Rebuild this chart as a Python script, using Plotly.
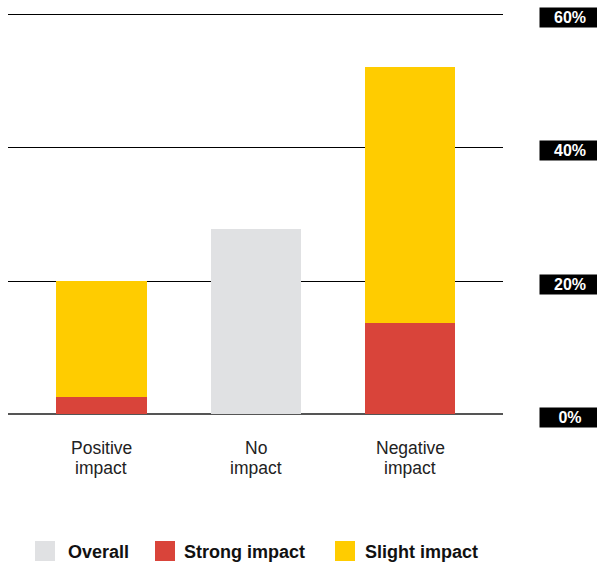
import plotly.graph_objects as go

categories = ["Positive impact", "No impact", "Negative impact"]
tick_labels = ["Positive<br>impact", "No<br>impact", "Negative<br>impact"]
series_names = ["Overall", "Strong impact", "Slight impact"]
overall = [None, 27.8, None]
strong = [2.6, None, 13.7]
slight = [17.4, None, 38.5]
y_ticks = [0, 20, 40, 60]
y_tick_labels = ["0%", "20%", "40%", "60%"]
colors = ["#e0e1e3", "#d9443a", "#ffcc00"]

W, H = 597, 565
L, R, T, B = 8, 94, 10, 150
pw, ph = W - L - R, H - T - B
y_lo, y_hi = -0.15, 60.75
FONT = "Liberation Sans, Arial, sans-serif"

fig = go.Figure()
for name, vals, c in zip(series_names, [overall, strong, slight], colors):
    fig.add_trace(go.Bar(x=categories, y=vals, name=name, marker=dict(color=c, line=dict(width=0)),
                         width=0.583, showlegend=False))

fig.update_layout(
    width=W, height=H, margin=dict(l=L, r=R, t=T, b=B, autoexpand=False),
    barmode="stack", plot_bgcolor="white", paper_bgcolor="white",
    font=dict(family=FONT, color="#1a1a1a"),
    xaxis=dict(range=[-0.605, 2.599], showticklabels=False, ticks="",
               showgrid=False, showline=False, zeroline=False),
    yaxis=dict(range=[y_lo, y_hi], tickvals=y_ticks, showticklabels=False, showgrid=True,
               gridcolor="#000000", gridwidth=1, zeroline=True, zerolinecolor="#555555",
               zerolinewidth=1.5, showline=False),
)

def px_x(p):
    return (p - L) / pw

def px_y(p):
    return (H - B - p) / ph

# category labels (two lines each, tight line spacing)
line_centers = [448, 468.5]
for cat, lab in zip(categories, tick_labels):
    for line, yc in zip(lab.split("<br>"), line_centers):
        fig.add_annotation(xref="x", yref="paper", x=cat, y=px_y(yc), text=line,
                           showarrow=False, xanchor="center", yanchor="middle",
                           font=dict(size=17.5, color="#222", family=FONT))

for v, t in zip(y_ticks, y_tick_labels):
    fig.add_annotation(xref="paper", yref="y", x=px_x(570), y=v, yshift=-3, text=t,
                       showarrow=False, xanchor="center", yanchor="middle",
                       font=dict(size=16, color="white", family=FONT, weight="bold"),
                       bgcolor="black", width=58, height=17, borderpad=1)

legend_x = [35, 155, 335]
legend_tx = [67, 183, 364]
for name, c, x0, tx in zip(series_names, colors, legend_x, legend_tx):
    fig.add_shape(type="rect", xref="paper", yref="paper", x0=px_x(x0), x1=px_x(x0 + 20),
                  y0=px_y(561), y1=px_y(541), fillcolor=c, line=dict(width=0))
    fig.add_annotation(xref="paper", yref="paper", x=px_x(tx - 1), y=px_y(551.5), text=name,
                       showarrow=False, xanchor="left", yanchor="middle",
                       font=dict(size=18, color="#111", family=FONT, weight="bold"))

fig.write_html("out.html", config={"displayModeBar": False},
               post_script="document.body.style.margin='0';document.body.style.overflow='hidden';")
